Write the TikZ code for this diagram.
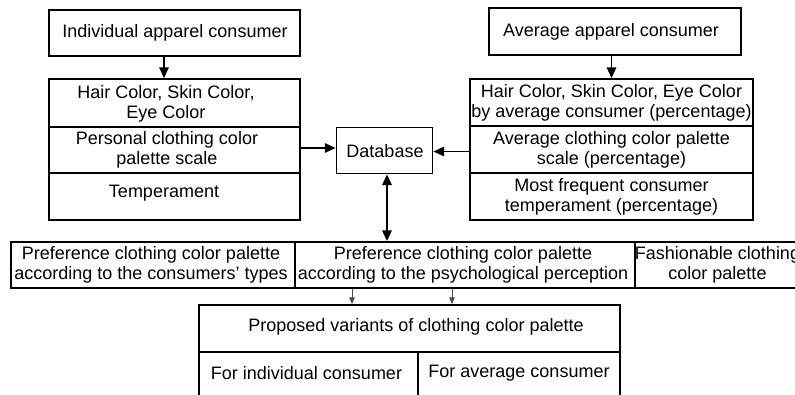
\documentclass[tikz,border=0pt]{standalone}
\usepackage{fontspec}
\setmainfont{Liberation Sans}
\usetikzlibrary{arrows.meta,calc}
\begin{document}
\begin{tikzpicture}[x=0.75pt,y=-0.75pt,
  box/.style={draw,line width=1.3pt,inner sep=0pt},
  txt/.style={align=center,inner sep=0pt,font=\fontsize{13.5}{15}\selectfont},
  arr/.style={line width=1.2pt,-{Triangle[length=8pt,width=7pt]}},
  darr/.style={line width=1.5pt,{Triangle[length=8pt,width=7pt]}-{Triangle[length=8pt,width=7pt]}},
  tarr/.style={line width=0.6pt,draw=black!70,-{Triangle[length=5pt,width=4pt]}}]
\useasboundingbox (0,0) rectangle (795,394);
\fill[white] (0,0) rectangle (795,394);
\begin{scope}
\clip (0,0) rectangle (795,394);
% left column
\node[box,minimum width=188.25pt,minimum height=34.5pt] (ind) at (174.5,33) {};
\node[txt] (indT) at (175,33) {Individual apparel consumer};
\node[box,minimum width=188.25pt,minimum height=36pt] (ih) at (174.5,103) {};
\node[txt] (ihT) at (166,104) {Hair Color, Skin Color,\\Eye Color};
\node[box,minimum width=188.25pt,minimum height=34.5pt] (ip) at (174.5,150) {};
\node[txt] (ipT) at (167,150) {Personal clothing color\\palette scale};
\node[box,minimum width=188.25pt,minimum height=35.25pt] (it) at (174.5,196.5) {};
\node[txt] (itT) at (164,193) {Temperament};
% right column
\node[box,minimum width=189pt,minimum height=35.25pt] (avg) at (615,31.5) {};
\node[txt] (avgT) at (611,32) {Average apparel consumer};
\node[box,minimum width=212.25pt,minimum height=35.25pt] (ah) at (611.5,102.5) {};
\node[txt] (ahT) at (611.5,103) {Hair Color, Skin Color, Eye Color\\by average consumer (percentage)};
\node[box,minimum width=212.25pt,minimum height=35.25pt] (ap) at (611.5,149.5) {};
\node[txt] (apT) at (611.5,150) {Average clothing color palette\\scale (percentage)};
\node[box,minimum width=212.25pt,minimum height=35.25pt] (at) at (611.5,196.5) {};
\node[txt] (atT) at (611.5,197) {Most frequent consumer\\temperament (percentage)};
% database
\node[box,minimum width=72pt,minimum height=34.5pt] (db) at (384.5,150.5) {};
\node[txt] (dbT) at (385,151) {Database};
% preference row
\node[box,minimum width=213pt,minimum height=34.5pt] (p1) at (153,265) {};
\node[txt] (p1T) at (151,265) {Preference clothing color palette\\according to the consumers' types};
\node[box,minimum width=255pt,minimum height=34.5pt] (p2) at (465,265) {};
\node[txt] (p2T) at (463,265) {Preference clothing color palette\\according to the psychological perception};
\node[box,minimum width=123.75pt,minimum height=34.5pt] (p3) at (717.5,265) {};
\node[txt] (p3T) at (717.5,265) {Fashionable clothing\\color palette};
% proposed
\node[box,minimum width=315.75pt,minimum height=35.25pt] (pv) at (409.5,328.5) {};
\node[txt] (pvT) at (416,327) {Proposed variants of clothing color palette};
\node[box,minimum width=164.25pt,minimum height=36pt] (fi) at (308.5,376) {};
\node[txt] (fiT) at (306.5,373) {For individual consumer};
\node[box,minimum width=151.5pt,minimum height=36pt] (fa) at (519,376) {};
\node[txt] (faT) at (519,373) {For average consumer};
% connectors
\coordinate (x1) at (164,0);
\coordinate (x2) at (387,0);
\coordinate (x3) at (352,0);
\coordinate (x4) at (452,0);
\draw[arr] (ind.south -| x1) -- (ih.north -| x1);
\draw[arr] (avg.south -| ah.north) -- (ah.north);
\draw[arr] (ip.east) ++(0,-2) coordinate (ipo) (ipo) -- (db.west |- ipo);
\draw[arr] (ap.west) ++(0,2) coordinate (apo) (apo) -- (db.east |- apo);
\draw[darr] (db.south -| x2) -- (p2.north -| x2);
\draw[tarr] (p2.south -| x3) -- (pv.north -| x3);
\draw[tarr] (p2.south -| x4) -- (pv.north -| x4);
\end{scope}
\end{tikzpicture}
\end{document}
